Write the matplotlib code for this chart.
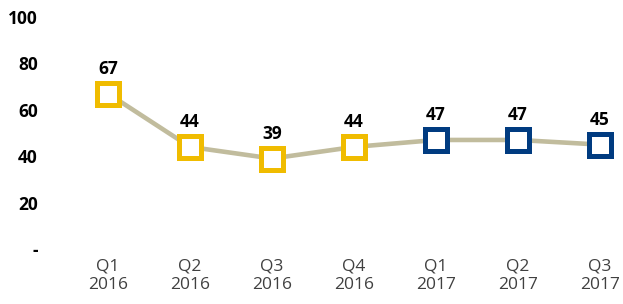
import matplotlib
matplotlib.use("Agg")
import matplotlib.pyplot as plt

plt.rcParams['font.family'] = ['Open Sans', 'DejaVu Sans']

# Data
quarters = ['Q1\n2016', 'Q2\n2016', 'Q3\n2016', 'Q4\n2016',
            'Q1\n2017', 'Q2\n2017', 'Q3\n2017']
values = [67, 44, 39, 44, 47, 47, 45]
years = [2016, 2016, 2016, 2016, 2017, 2017, 2017]

yticks = [0, 20, 40, 60, 80, 100]
ytick_labels = ['-', '20', '40', '60', '80', '100']

colors = {2016: '#F0BC00', 2017: '#003B80'}
line_color = '#C1BC9D'

fig = plt.figure(figsize=(6.23, 3.04), dpi=100)
ax = fig.add_axes([58.8 / 623, 55 / 304, (620.5 - 58.8) / 623, 232 / 304])

x = list(range(len(quarters)))
ax.plot(x, values, color=line_color, linewidth=3.3, zorder=1)

for xi, v, yr in zip(x, values, years):
    ax.plot(xi, v, marker='s', markersize=15.5, markerfacecolor='white',
            markeredgecolor=colors[yr], markeredgewidth=3.6, linestyle='none', zorder=2)
    ax.annotate(str(v), (xi, v), xytext=(0, 11.5), textcoords='offset points',
                ha='center', va='bottom', fontsize=12.5, fontweight='bold', color='black')

ax.set_xlim(-0.6, 6.25)
ax.set_ylim(0, 100)
ax.set_xticks(x)
ax.set_xticklabels(quarters, fontsize=12.5, color='#404040', linespacing=1.2)
ax.set_yticks(yticks)
ax.set_yticklabels(ytick_labels, fontsize=12.5, fontweight='bold', color='black')
ax.tick_params(axis='both', length=0)
ax.tick_params(axis='y', pad=15)
ax.tick_params(axis='x', pad=7)
for s in ax.spines.values():
    s.set_visible(False)

fig.savefig('out.png', dpi=100)
